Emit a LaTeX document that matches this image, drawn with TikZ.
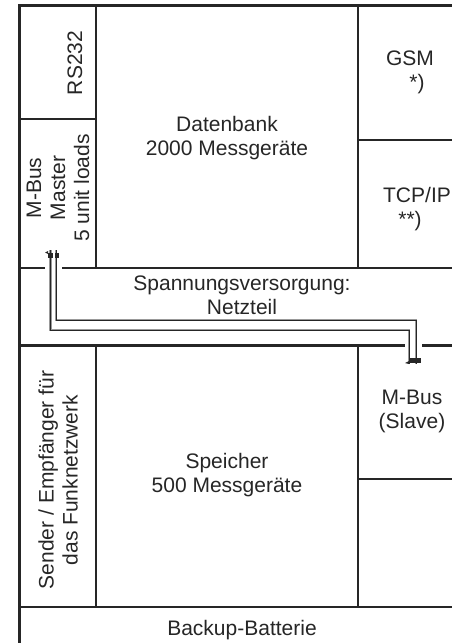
\documentclass[tikz,border=0pt]{standalone}
\usepackage{fontspec}
\setmainfont{Liberation Sans}
\begin{document}
\begin{tikzpicture}[
  x=1pt, y=-1pt,
  every node/.style={font=\fontsize{21}{24}\selectfont, text=black!85, align=center, inner sep=0pt},
  frame/.style={draw=black!85, line width=3pt},
  wall/.style={draw=black!85, line width=1.1pt},
  wire/.style={draw=black!85, line width=1pt},
  wireshade/.style={draw=black!40, line width=2.6pt},
  plug/.style={fill=black!85},
  turned/.style={rotate=90}
]
\useasboundingbox (0,0) rectangle (452,643);

% outer frame and the split between the two boards
\draw[frame] (19,643) -- (19,5) -- (452,5);
\draw[frame] (19,345) -- (405,345);
\draw[frame] (422,345) -- (452,345);

% upper board
\draw[wall] (96,5) -- (96,268);
\draw[wall] (358,5) -- (358,268);
\draw[wall] (19,119) -- (96,119);
\draw[wall] (358,140) -- (452,140);
\draw[wall] (19,268) -- (45,268);
\draw[wall] (62,268) -- (452,268);

% lower board
\draw[wall] (96,345) -- (96,607);
\draw[wall] (358,345) -- (358,607);
\draw[wall] (358,479) -- (452,479);
\draw[wall] (19,607) -- (452,607);

% labels
\node[turned] (rs) at (75,63) {RS232};
\node[turned] (master) at (58,188) {M-Bus\\Master\\5 unit loads};
\node (db) at (227,138) {Datenbank\\2000 Messgeräte};
\node (gsm) at (410,72) {GSM\\\hspace*{14pt}*)};
\node (tcp) at (417,209) {TCP/IP\\**)\hspace*{14pt}};
\node (power) at (242,295) {Spannungsversorgung:\\Netzteil};
\node[turned] (radio) at (58,480) {Sender / Empfänger für\\das Funknetzwerk};
\node (mem) at (227,475) {Speicher\\500 Messgeräte};
\node (slave) at (412,411) {M-Bus\\(Slave)};
\node (battery) at (242,630) {Backup-Batterie};

% M-Bus cable master -> slave
\coordinate (mA) at (56,250);
\coordinate (mB) at (50.7,250);
\coordinate (sA) at (416,364);
\coordinate (sB) at (409,364);
\draw[wireshade] (mA) |- (sA |- 0,320) -- (sA);
\draw[wireshade] (mB) |- (sB |- 0,330) -- (sB);
\draw[wire] (mA) |- (sA |- 0,320) -- (sA);
\draw[wire] (mB) |- (sB |- 0,330) -- (sB);

% plugs
\fill[plug] ([xshift=-2.5pt,yshift=-3pt]mB) rectangle ++(5,5);
\fill[plug] ([xshift=-1.5pt,yshift=-3pt]mA) rectangle ++(4.5,5);
\fill[plug] ([xshift=-2.5pt,yshift=-1pt]mB) -- ++(-3,1.5) -- ++(3,1.5) -- cycle;
\fill[plug] ([xshift=0pt,yshift=1pt]sB) rectangle ([xshift=5pt,yshift=6pt]sA);
\fill[plug] ([yshift=3pt]sB) -- ++(-4,2) -- ++(4,1) -- cycle;
\end{tikzpicture}
\end{document}
